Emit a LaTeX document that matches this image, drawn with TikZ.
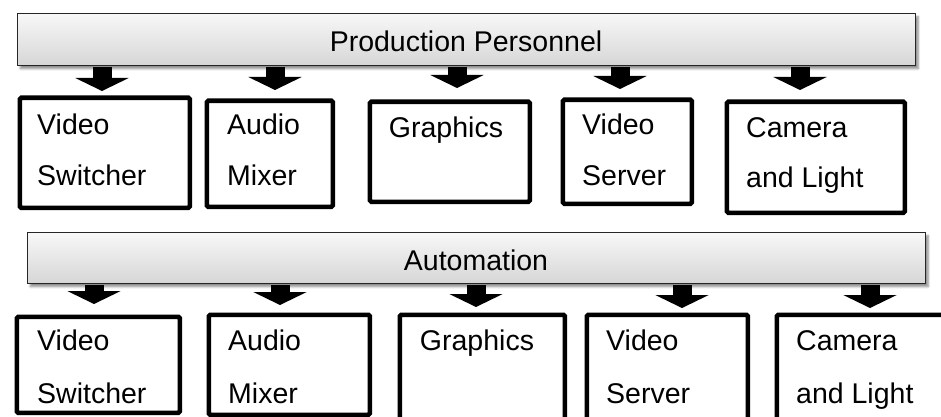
\documentclass[tikz,border=0pt]{standalone}
\usepackage{fontspec}
\setmainfont{Liberation Sans}
\usetikzlibrary{arrows.meta,shadows.blur}

\tikzset{
  bar/.style={draw=black!85, line width=1.4pt, top color=gray!6, bottom color=gray!32,
    inner sep=0pt, anchor=north west,
    blur shadow={shadow xshift=2.5pt, shadow yshift=-3pt, shadow blur steps=6, shadow opacity=45}},
  unit/.style={draw=black, line width=4.6pt, rounded corners=1.5pt, fill=white,
    inner sep=0pt, anchor=north west},
  lbl/.style={inner sep=0pt, anchor=base west, font=\fontsize{28.5pt}{34pt}\selectfont},
  ctr/.style={lbl, anchor=base},
  blk/.style={line width=19pt, -{Triangle[width=53pt,length=13pt]}}
}

\begin{document}
\begin{tikzpicture}[x=1pt, y=-1pt]
\useasboundingbox (0,0) rectangle (941,417);
\clip (0,0) rectangle (941,417);

% --- upper layer: production staff ---
\node[bar, minimum width=898pt, minimum height=52pt] (pp) at (17,13) {};
\node[ctr] (ppt) at (466,52) {Production Personnel};

\node[unit, minimum width=170pt, minimum height=110pt] (u1) at (17.5,95.5) {};
\node[unit, minimum width=126pt, minimum height=106pt] (u2) at (204.5,98.5) {};
\node[unit, minimum width=160pt, minimum height=100pt] (u3) at (367.5,99.5) {};
\node[unit, minimum width=129pt, minimum height=104pt] (u4) at (560.5,97.5) {};
\node[unit, minimum width=178pt, minimum height=111pt] (u5) at (724.5,99.5) {};

\node[lbl] (u1a) at (37,135) {Video};
\node[lbl] (u1b) at (37,185) {Switcher};
\node[lbl] (u2a) at (227,135) {Audio};
\node[lbl] (u2b) at (227,185) {Mixer};
\node[ctr] (u3a) at (446,137) {Graphics};
\node[lbl] (u4a) at (582,135) {Video};
\node[lbl] (u4b) at (582,185) {Server};
\node[lbl] (u5a) at (746,137) {Camera};
\node[lbl] (u5b) at (746,187) {and Light};

\coordinate (ut1) at (102,91);
\coordinate (ut2) at (275,90);
\coordinate (ut3) at (457,88);
\coordinate (ut4) at (620,89);
\coordinate (ut5) at (800,90);
\foreach \i in {1,...,5}
  \draw[blk] (ut\i |- 0,67) -- (ut\i);

% --- lower layer: automation ---
\node[bar, minimum width=898pt, minimum height=51pt] (au) at (27,232) {};
\node[ctr] (aut) at (476,270) {Automation};

\node[unit, minimum width=163pt, minimum height=96pt] (l1) at (14.5,314.5) {};
\node[unit, minimum width=161pt, minimum height=100pt] (l2) at (206.5,312.5) {};
\node[unit, minimum width=165pt, minimum height=130pt] (l3) at (397.5,312.5) {};
\node[unit, minimum width=161pt, minimum height=130pt] (l4) at (584.5,312.5) {};
\node[unit, minimum width=190pt, minimum height=130pt] (l5) at (774.5,312.5) {};

\node[lbl] (l1a) at (37,350) {Video};
\node[lbl] (l1b) at (37,403) {Switcher};
\node[lbl] (l2a) at (228,350) {Audio};
\node[lbl] (l2b) at (228,403) {Mixer};
\node[ctr] (l3a) at (477,350) {Graphics};
\node[lbl] (l4a) at (606,350) {Video};
\node[lbl] (l4b) at (606,403) {Server};
\node[lbl] (l5a) at (796,350) {Camera};
\node[lbl] (l5b) at (796,403) {and Light};

\coordinate (lt1) at (94,304);
\coordinate (lt2) at (280,305);
\coordinate (lt3) at (476,307);
\coordinate (lt4) at (682,308);
\coordinate (lt5) at (870,308);
\foreach \i in {1,...,5}
  \draw[blk] (lt\i |- 0,285) -- (lt\i);
\end{tikzpicture}
\end{document}
